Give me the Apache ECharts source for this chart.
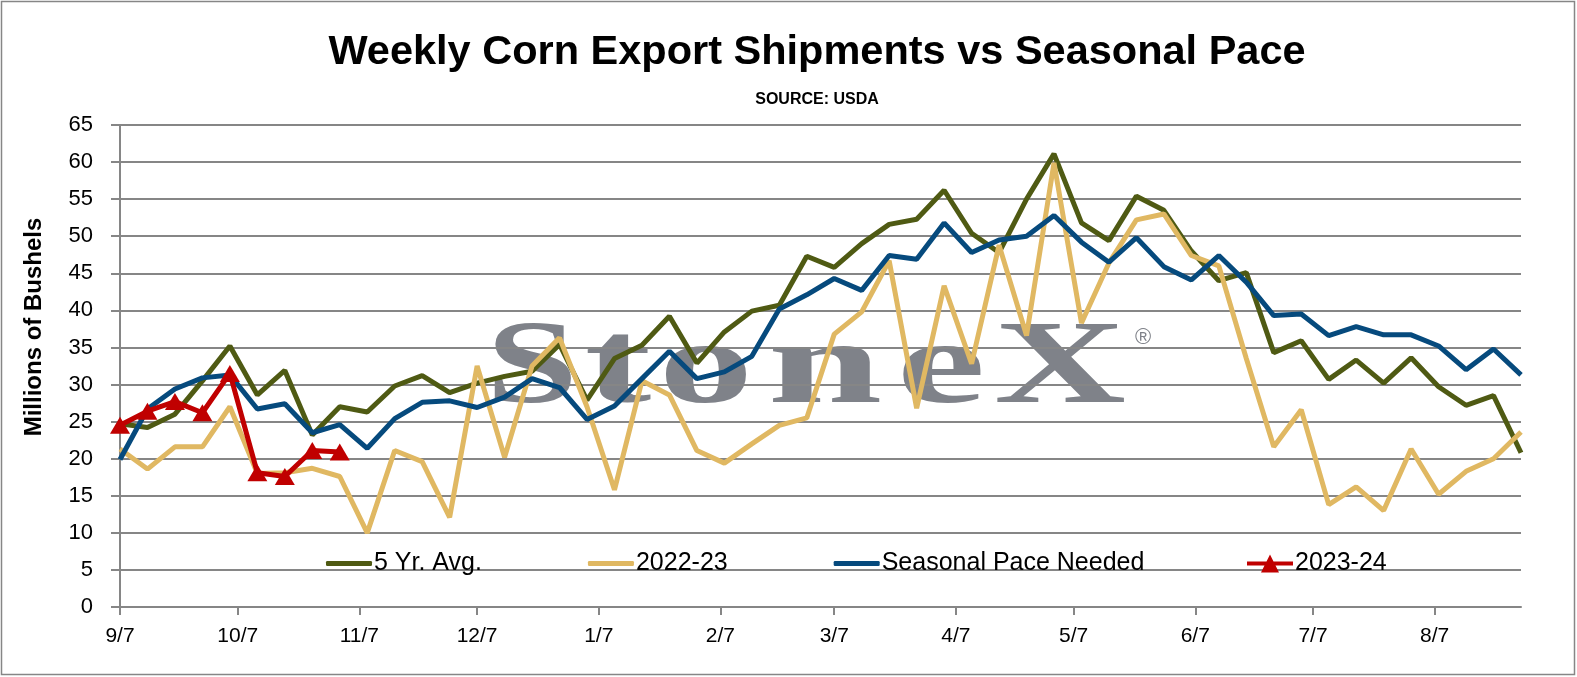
<!DOCTYPE html>
<html>
<head>
<meta charset="utf-8">
<script src="https://cdn.jsdelivr.net/npm/echarts@6/dist/echarts.min.js"></script>
<style>
html,body{margin:0;padding:0;background:#fff;}
#chart{width:1577px;height:677px;}
</style>
</head>
<body>
<div id="chart"></div>
<script>
// ---- data (weekly, starting 9/7) ----
var weekStep = 7;
var fiveYrAvg = [24.7,24.2,26.0,30.5,35.2,28.6,31.9,23.2,27.0,26.3,
  29.8,31.2,28.9,30.2,31.1,31.8,35.4,27.9,33.5,35.3,
  39.2,32.9,37.1,39.9,40.7,47.3,45.8,49.0,51.6,52.3,
  56.2,50.4,47.8,55.0,61.1,51.8,49.4,55.4,53.5,48.0,
  44.0,45.1,34.3,35.9,30.7,33.3,30.2,33.6,29.7,27.2,
  28.5,20.8];
var y2022_23 = [21.3,18.6,21.6,21.6,27.0,18.0,18.1,18.7,17.6,10.0,
  21.1,19.6,12.1,32.5,20.2,32.5,36.3,27.0,15.8,30.5,
  28.6,21.1,19.4,22.0,24.5,25.5,36.8,39.8,46.7,26.8,
  43.3,32.8,48.8,36.6,59.9,38.3,46.4,52.2,53.0,47.4,
  46.0,33.5,21.6,26.6,13.8,16.2,13.0,21.3,15.2,18.3,
  20.0,23.6];
var seasonalPace = [19.9,26.7,29.4,30.9,31.3,26.7,27.4,23.5,24.6,21.4,
  25.4,27.6,27.8,26.9,28.3,30.8,29.6,25.3,27.1,30.8,
  34.5,30.8,31.7,33.8,40.2,42.1,44.3,42.7,47.4,46.9,
  51.8,47.8,49.5,50.0,52.8,49.2,46.5,49.8,45.9,44.1,
  47.4,43.8,39.3,39.5,36.6,37.8,36.7,36.7,35.2,32.0,
  34.8,31.3];
var y2023_24 = [24.5,26.4,27.7,26.2,31.5,18.1,17.6,21.1,20.9];
var tickLabels = ['9/7','10/7','11/7','12/7','1/7','2/7','3/7','4/7','5/7','6/7','7/7','8/7'];
var seriesNames = ['5 Yr. Avg.','2022-23','Seasonal Pace Needed','2023-24'];
var seriesColors = ['#4F5A13','#E0B862','#064A7D','#C00000'];

// daily categories 9/7/2023 .. 8/29/2024
var categories = [];
(function(){
  var d = new Date(2023, 8, 7);
  var nDays = (fiveYrAvg.length - 1) * weekStep + 1;
  for (var k = 0; k < nDays; k++) {
    categories.push((d.getMonth() + 1) + '/' + d.getDate());
    d.setDate(d.getDate() + 1);
  }
})();
function weekly(arr){ return arr.map(function(v,i){ return [i*weekStep, v]; }); }
function isTick(idx, val){ return tickLabels.indexOf(val) >= 0; }

var chart = echarts.init(document.getElementById('chart'));
var font = 'Liberation Sans, Arial, sans-serif';
var gray = '#868686';
var wmColor = '#7f8289';
var wmFont = 'bold 118px "Liberation Serif", "DejaVu Serif", serif';
function wm(ch, cx, sx){
  return {type:'text', z:-10, x:cx, y:372, scaleX:sx, scaleY:1,
          style:{text:ch, x:0, y:0, align:'center', verticalAlign:'middle', font:wmFont, fill:wmColor}};
}
chart.setOption({
  backgroundColor:'#fff',
  animation:false,
  title:[
    {text:'Weekly Corn Export Shipments vs Seasonal Pace', left:812, top:27, textAlign:'center',
     textStyle:{fontFamily:font, fontWeight:'bold', fontSize:41.5, color:'#000'}},
    {text:'SOURCE: USDA', left:812, top:87, textAlign:'center',
     textStyle:{fontFamily:font, fontWeight:'bold', fontSize:16, color:'#000'}}
  ],
  graphic:[
    {type:'rect', z:-20, shape:{x:1.5,y:1.5,width:1573,height:673}, style:{fill:'#fff', stroke:gray, lineWidth:1.5}},
    wm('S',532,1.4), wm('t',618,1.7), wm('o',706,1.6), wm('n',825,1.75), wm('e',941,1.7), wm('X',1060,1.55),
    {type:'text', z:-10, x:1135, y:338, style:{text:'\u00AE', x:0, y:0, verticalAlign:'middle', font:'22px "Liberation Sans", sans-serif', fill:wmColor}},
    {type:'text', x:34, y:327, rotation:Math.PI/2,
     style:{text:'Millions of Bushels', x:0, y:0, align:'center', verticalAlign:'middle', font:'bold 24px "Liberation Sans", Arial, sans-serif', fill:'#000'}}
  ],
  legend:[
    {data:seriesNames.slice(0,3), left:321, top:546, itemWidth:46, itemHeight:5, itemGap:106, icon:'roundRect',
     textStyle:{fontFamily:font, fontSize:25, color:'#000', padding:[0,0,0,-3]}},
    {data:[{name:seriesNames[3], icon:'path://M0,8 L46,8 L46,12 L0,12 Z M23,1 L32,19 L14,19 Z'}],
     left:1242, top:546, itemWidth:46, itemHeight:18,
     textStyle:{fontFamily:font, fontSize:25, color:'#000', padding:[0,0,0,-3]}}
  ],
  grid:{left:120, right:56, top:125, bottom:70},
  xAxis:{
    type:'category', data:categories, boundaryGap:false,
    axisLine:{lineStyle:{color:gray, width:2}},
    axisTick:{show:true, inside:false, length:8, interval:isTick, lineStyle:{color:gray, width:2}},
    axisLabel:{interval:isTick, color:'#000', fontFamily:font, fontSize:21, margin:19},
    splitLine:{show:false}
  },
  yAxis:{
    type:'value', min:0, max:65, interval:5,
    axisLine:{show:true, lineStyle:{color:gray, width:2}},
    axisTick:{show:true, length:9, lineStyle:{color:gray, width:2}},
    axisLabel:{color:'#000', fontFamily:font, fontSize:22, margin:27},
    splitLine:{lineStyle:{color:gray, width:2}}
  },
  series:[
    {name:seriesNames[0], type:'line', data:weekly(fiveYrAvg), symbol:'none', color:seriesColors[0],
     lineStyle:{width:5, color:seriesColors[0]}, z:2},
    {name:seriesNames[1], type:'line', data:weekly(y2022_23), symbol:'none', color:seriesColors[1],
     lineStyle:{width:5, color:seriesColors[1]}, z:3},
    {name:seriesNames[2], type:'line', data:weekly(seasonalPace), symbol:'none', color:seriesColors[2],
     lineStyle:{width:5, color:seriesColors[2]}, z:4},
    {name:seriesNames[3], type:'line', data:weekly(y2023_24), symbol:'triangle', symbolSize:[20,17],
     showAllSymbol:true, color:seriesColors[3],
     itemStyle:{color:seriesColors[3]}, lineStyle:{width:5, color:seriesColors[3]}, z:5}
  ]
});
</script>
</body>
</html>
